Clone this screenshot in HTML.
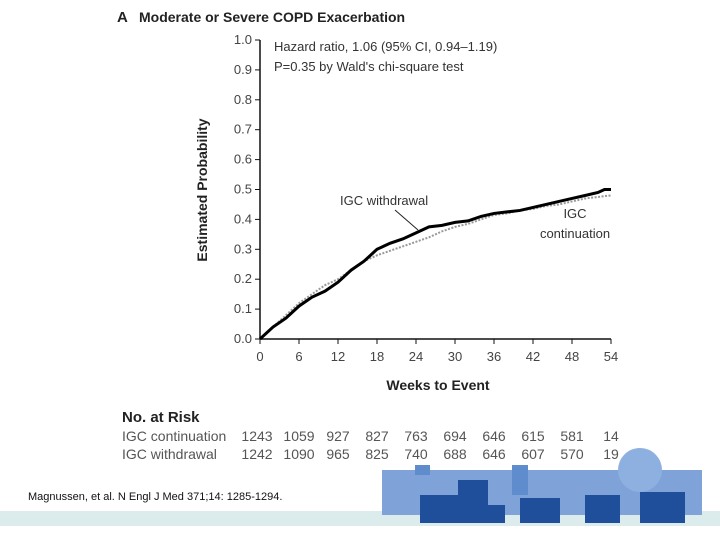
<!DOCTYPE html>
<html><head><meta charset="utf-8"><style>
body{margin:0;width:720px;height:540px;background:#fff;overflow:hidden;font-family:"Liberation Sans",sans-serif}
svg{position:absolute;left:0;top:0}
</style></head><body>
<svg width="720" height="540">
<rect x="0" y="511" width="720" height="15" fill="#dcecec"/>
<g id="skyline" fill="#5f8ccc">
<rect x="382" y="470" width="320" height="45" fill="#7fa3d8"/>
<rect x="420" y="495" width="40" height="28" fill="#1f4f9a"/>
<rect x="458" y="480" width="30" height="43" fill="#1f4f9a"/>
<rect x="475" y="505" width="30" height="18" fill="#1f4f9a"/>
<rect x="520" y="498" width="40" height="25" fill="#1f4f9a"/>
<rect x="585" y="495" width="35" height="28" fill="#1f4f9a"/>
<rect x="640" y="492" width="45" height="31" fill="#1f4f9a"/>
<rect x="415" y="465" width="15" height="10"/><rect x="512" y="465" width="16" height="30"/>
<circle cx="640" cy="470" r="22" fill="#8eb0e0"/>
</g>
<text x="117" y="22" font-size="15" font-weight="bold" fill="#222">A</text>
<text x="139" y="22" font-size="14" font-weight="bold" fill="#222">Moderate or Severe COPD Exacerbation</text>
<text x="274" y="51" font-size="13" fill="#333">Hazard ratio, 1.06 (95% CI, 0.94–1.19)</text>
<text x="274" y="71" font-size="13" fill="#333">P=0.35 by Wald's chi-square test</text>
<text transform="translate(207,190) rotate(-90)" text-anchor="middle" font-size="14" font-weight="bold" fill="#222">Estimated Probability</text>
<text x="438" y="390" text-anchor="middle" font-size="14" font-weight="bold" fill="#222">Weeks to Event</text>
<g id="axes"></g>
<g id="series"></g>
<text x="340" y="205" font-size="13" fill="#333">IGC withdrawal</text>
<line x1="395" y1="210" x2="418" y2="230" stroke="#222" stroke-width="1"/>
<text x="575" y="218" text-anchor="middle" font-size="13" fill="#333">IGC</text>
<text x="575" y="238" text-anchor="middle" font-size="13" fill="#333">continuation</text>
<text x="122" y="422" font-size="15" font-weight="bold" fill="#222">No. at Risk</text>
<g id="risk"></g>
<text x="28" y="500" font-size="11" fill="#111">Magnussen, et al. N Engl J Med 371;14: 1285-1294.</text>
</svg>
<script>
const weeks=[0,2,4,6,8,10,12,14,16,18,20,22,24,26,28,30,32,34,36,38,40,42,44,46,48,50,52,53,54];
const withdrawal=[0,.04,.07,.11,.14,.16,.19,.23,.26,.30,.32,.335,.355,.375,.38,.39,.395,.41,.42,.425,.43,.44,.45,.46,.47,.48,.49,.50,.50];
const continuation=[0,.04,.08,.12,.15,.18,.20,.23,.26,.28,.295,.31,.325,.34,.36,.375,.385,.40,.415,.42,.43,.435,.445,.45,.46,.47,.475,.478,.48];
const xTicks=[0,6,12,18,24,30,36,42,48,54];
const yTicks=[0,.1,.2,.3,.4,.5,.6,.7,.8,.9,1.0];
const riskCont=[1243,1059,927,827,763,694,646,615,581,14];
const riskWith=[1242,1090,965,825,740,688,646,607,570,19];
const NS="http://www.w3.org/2000/svg";
const X=w=>260+w*(611-260)/54, Y=p=>339-p*299;
function mk(t,a,parent){const e=document.createElementNS(NS,t);for(const k in a)e.setAttribute(k,a[k]);parent.appendChild(e);return e;}
const ax=document.getElementById('axes');
let l=mk('line',{x1:260,y1:40,x2:260,y2:339,stroke:'#111','stroke-width':1.5},ax);


l=mk('line',{x1:260,y1:339,x2:611,y2:339,stroke:'#111','stroke-width':1.5},ax);


yTicks.forEach(v=>{mk('line',{x1:255,x2:260,y1:Y(v),y2:Y(v),stroke:'#111'},ax);
const t=mk('text',{x:252,y:Y(v)+4,'text-anchor':'end','font-size':13,fill:'#444'},ax);t.textContent=v.toFixed(1);

});
xTicks.forEach(v=>{mk('line',{x1:X(v),x2:X(v),y1:339,y2:344,stroke:'#111'},ax);
const t=mk('text',{x:X(v),y:361,'text-anchor':'middle','font-size':13,fill:'#444'},ax);t.textContent=v;

});
const sg=document.getElementById('series');
const pts=a=>weeks.map((w,i)=>X(w)+','+Y(a[i])).join(' ');
let p=mk('polyline',{points:pts(continuation),fill:'none',stroke:'#999','stroke-width':2,'stroke-dasharray':'2,1.5'},sg);


p=mk('polyline',{points:pts(withdrawal),fill:'none',stroke:'#000','stroke-width':3},sg);


const rg=document.getElementById('risk');
[['IGC continuation',riskCont,441],['IGC withdrawal',riskWith,459]].forEach(([n,arr,y])=>{
let t=mk('text',{x:122,y:y,'font-size':14,fill:'#555'},rg);t.textContent=n;


arr.forEach((v,i)=>{const c=mk('text',{x:X(xTicks[i])+(i==0?-3:0),y:y,'text-anchor':'middle','font-size':14,fill:'#555'},rg);c.textContent=v;

});});
</script>
</body></html>
